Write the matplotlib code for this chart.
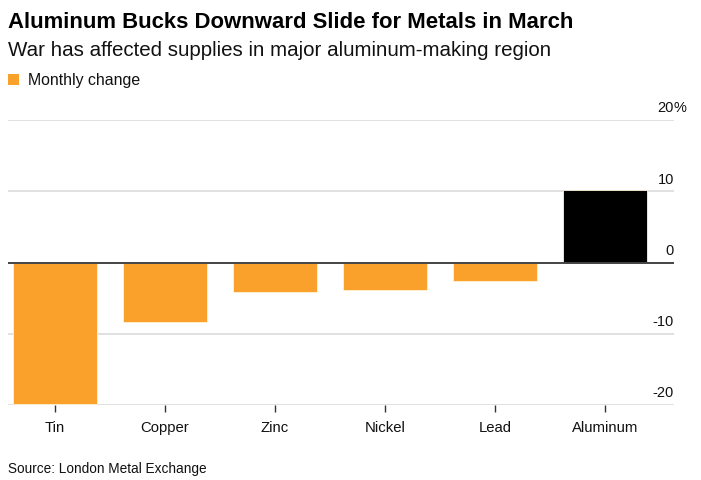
import matplotlib
matplotlib.use("Agg")
import matplotlib.pyplot as plt
from matplotlib.patches import Rectangle

plt.rcParams['font.family'] = ['Liberation Sans', 'DejaVu Sans']

categories = ["Tin", "Copper", "Zinc", "Nickel", "Lead", "Aluminum"]
values = [-19.8, -8.4, -4.1, -3.8, -2.6, 10.2]
highlight = "Aluminum"
yticks = [-20, -10, 0, 10, 20]
ytick_labels = ["-20", "-10", "0", "10", "20%"]

W, H = 701, 481
fig = plt.figure(figsize=(W / 100, H / 100), dpi=100)

# axes in pixel coords
left, right, top, bottom = 8, 674, 121, 406
ax = fig.add_axes([left / W, 1 - bottom / H, (right - left) / W, (bottom - top) / H])

orange = "#F9A12B"
colors = ["#000000" if c == highlight else orange for c in categories]
x = list(range(len(categories)))
ax.bar(x, values, width=0.76, color=colors, edgecolor="#FFF3D6", linewidth=0.6, zorder=3)

ax.set_xlim(-0.427, 5.627)
ax.set_ylim(-20, 20)

for t in yticks:
    if t == 0:
        ax.axhline(0, color="#444444", linewidth=1.4, zorder=4)
    else:
        ax.axhline(t, color="#dcdcdc", linewidth=1.2, zorder=1)

for s in ax.spines.values():
    s.set_visible(False)

ax.set_yticks([])
ax.set_xticks(x)
ax.set_xticklabels(categories, fontsize=10.7, color="#111111")
ax.tick_params(axis='x', length=5, width=1, color="#333333", pad=6)

# y labels on right, above gridlines
for t, lab in zip(yticks, ytick_labels):
    if lab.endswith('%'):
        ax.annotate(lab[:-1], xy=(1, t), xycoords=('axes fraction', 'data'),
                    xytext=(0, 4), textcoords='offset points', ha='right', va='bottom',
                    fontsize=10.5, color="#111111")
        ax.annotate('%', xy=(1, t), xycoords=('axes fraction', 'data'),
                    xytext=(0, 4), textcoords='offset points', ha='left', va='bottom',
                    fontsize=10.5, color="#111111")
    else:
        ax.annotate(lab, xy=(1, t), xycoords=('axes fraction', 'data'),
                    xytext=(0, 4), textcoords='offset points', ha='right', va='bottom',
                    fontsize=10.5, color="#111111")

fig.text(8 / W, 1 - 22 / H, "Aluminum Bucks Downward Slide for Metals in March",
         fontsize=15.9, fontweight='bold', ha='left', va='center', color="#000000")
fig.text(8 / W, 1 - 51 / H, "War has affected supplies in major aluminum-making region",
         fontsize=14.8, ha='left', va='center', color="#111111")
fig.patches.append(Rectangle((8 / W, 1 - 86 / H), 11 / W, 11 / H, transform=fig.transFigure,
                             facecolor=orange, edgecolor='none'))
fig.text(28 / W, 1 - 80 / H, "Monthly change", fontsize=11.4, ha='left', va='center', color="#111111")
fig.text(8 / W, 1 - 469 / H, "Source: London Metal Exchange", fontsize=9.8, ha='left',
         va='center', color="#111111")

fig.savefig("out.png", dpi=100)
